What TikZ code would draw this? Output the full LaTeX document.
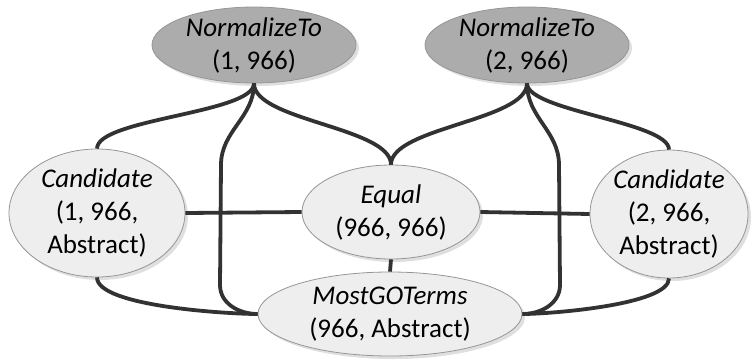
\documentclass[tikz,border=0pt]{standalone}
\usepackage{fontspec}
\setmainfont{Carlito}
\usetikzlibrary{shapes.geometric}
\usetikzlibrary{shadows}

\definecolor{blobfill}{RGB}{238,238,238}
\definecolor{normfill}{RGB}{172,172,172}
\definecolor{blobline}{RGB}{150,150,150}
\definecolor{linkcol}{RGB}{50,50,50}

\begin{document}
\begin{tikzpicture}[x=0.5pt, y=-0.5pt,
    font=\fontsize{13.5}{16.5}\selectfont,
    blob/.style={ellipse, draw=blobline, fill=blobfill, thin, align=center,
      inner xsep=0pt, inner ysep=-2pt,
      drop shadow={shadow xshift=1.5pt, shadow yshift=-1.5pt, opacity=0.25, fill=gray}},
    normblob/.style={blob, fill=normfill},
    link/.style={draw=linkcol, line width=1.9pt}]
  % Fix the canvas size
  \useasboundingbox (0,0) rectangle (755,360);

  % Normalization nodes
  \node[normblob, minimum width=102pt, minimum height=38pt] (nt1) at (254,45)
    {{\itshape NormalizeTo}\\(1, 966)};
  \node[normblob, minimum width=102pt, minimum height=38pt] (nt2) at (527,45)
    {{\itshape NormalizeTo}\\(2, 966)};

  % Middle row
  \node[blob, minimum width=88pt, minimum height=64pt] (cand1) at (97,213)
    {{\itshape Candidate}\\(1, 966,\\Abstract)};
  \node[blob, minimum width=89pt, minimum height=47pt] (eq) at (391,212)
    {{\itshape Equal}\\(966, 966)};
  \node[blob, minimum width=79pt, minimum height=64pt] (cand2) at (669,214)
    {{\itshape Candidate}\\(2, 966,\\Abstract)};

  % Bottom node
  \node[blob, minimum width=132pt, minimum height=42pt] (mgo) at (390,314)
    {{\itshape MostGOTerms}\\(966, Abstract)};

  % Links from the first normalization node
  \draw[link] (nt1.south) to[out=-90, in=90, looseness=0.45] (cand1.north);
  \draw[link] (nt1.south) to[out=-90, in=90, looseness=0.6] (eq.north);
  \draw[link] (nt1.south) to[out=-90, in=90] (221,165) -- (220,285)
    to[out=-90, in=180] (mgo.west);

  % Links from the second normalization node
  \draw[link] (nt2.south) to[out=-90, in=90, looseness=0.45] (cand2.north);
  \draw[link] (nt2.south) to[out=-90, in=90, looseness=0.6] (eq.north);
  \draw[link] (nt2.south) to[out=-90, in=90] (559,165) -- (560,285)
    to[out=-90, in=0] (mgo.east);

  % Straight links
  \draw[link] (cand1.east) -- (eq.west);
  \draw[link] (eq.east) -- (cand2.west);
  \draw[link] (eq.south) -- (mgo.north);

  % Candidates down to the bottom node
  \draw[link] (cand1.south) to[out=-90, in=180, looseness=0.45] (mgo.west);
  \draw[link] (cand2.south) to[out=-90, in=0, looseness=0.45] (mgo.east);

\end{tikzpicture}
\end{document}
